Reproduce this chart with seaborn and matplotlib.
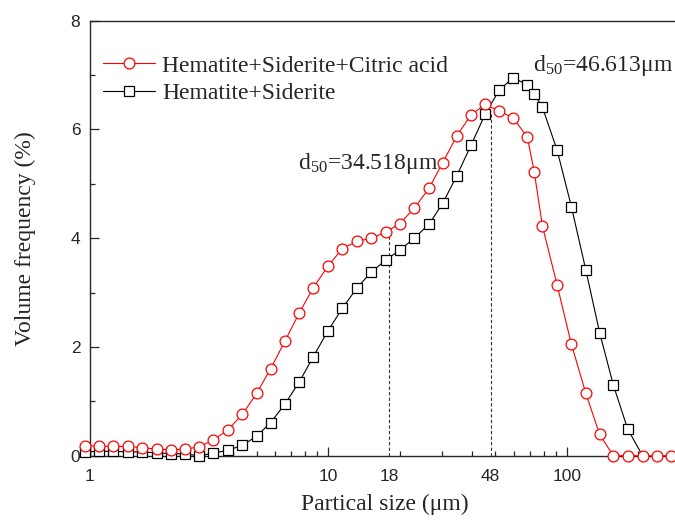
import numpy as np
import pandas as pd
import matplotlib
matplotlib.use("Agg")
import matplotlib.pyplot as plt
import seaborn as sns
from matplotlib.ticker import FixedLocator, NullFormatter

# ---- data ----
size_um = [0.950, 1.088, 1.249, 1.443, 1.658, 1.905, 2.193, 2.512, 2.876, 3.292,
           3.784, 4.358, 5.006, 5.73, 6.58, 7.56, 8.65, 9.94, 11.45, 13.16,
           15.10, 17.41, 19.94, 22.95, 26.47, 30.2, 34.6, 39.7, 45.5, 52.2,
           59.7, 68.4, 73.2, 79.1, 91.2, 104.7, 120.3, 137.6, 157.0, 180.4,
           208.3, 238.8, 273.3]
citric = [0.18, 0.18, 0.17, 0.17, 0.15, 0.12, 0.11, 0.12, 0.165, 0.29,
          0.47, 0.76, 1.15, 1.60, 2.11, 2.63, 3.09, 3.48, 3.81, 3.94,
          4.00, 4.11, 4.27, 4.55, 4.92, 5.39, 5.88, 6.27, 6.46, 6.34,
          6.21, 5.86, 5.21, 4.23, 3.14, 2.05, 1.15, 0.39, 0.0, 0.0,
          0.0, 0.0, 0.0]
plain = [0.07, 0.08, 0.08, 0.07, 0.07, 0.05, 0.04, 0.03, 0.0, 0.045,
         0.10, 0.19, 0.36, 0.61, 0.95, 1.36, 1.82, 2.29, 2.71, 3.08,
         3.37, 3.60, 3.78, 4.00, 4.26, 4.64, 5.15, 5.71, 6.28, 6.73,
         6.95, 6.82, 6.65, 6.41, 5.62, 4.58, 3.42, 2.26, 1.30, 0.49,
         0.0, None, None]
series_names = ["Hematite+Siderite+Citric acid", "Hematite+Siderite"]
d50_x = [18, 48]
d50_top = [4.11, 6.28]
d50_labels = ["34.518", "46.613"]
xtick_vals = [1, 10, 18, 48, 100]
xtick_labels = ["1", "10", "18", "48", "100"]
ytick_vals = [0, 2, 4, 6, 8]

df = pd.DataFrame({
    "size": size_um * 2,
    "freq": pd.to_numeric(pd.Series(citric + plain), errors="coerce"),
    "series": [series_names[0]] * len(size_um) + [series_names[1]] * len(size_um),
})

sns.set_style("ticks")
plt.rcParams["font.family"] = ["Liberation Serif", "DejaVu Serif"]
plt.rcParams["mathtext.fontset"] = "custom"
plt.rcParams["mathtext.rm"] = "Liberation Serif"
plt.rcParams["mathtext.it"] = "Liberation Serif"
plt.rcParams["mathtext.bf"] = "Liberation Serif"

fig = plt.figure(figsize=(6.75, 5.2), dpi=100)
ax = fig.add_axes([90 / 675, (520 - 455.7) / 520, (680 - 90) / 675, 435 / 520])

sub_b = df[(df.series == series_names[1]) & df.freq.notna()]
sub_r = df[df.series == series_names[0]]
sns.lineplot(data=sub_b, x="size", y="freq", ax=ax,
             color="black", lw=0.8, marker="s", markersize=7.5,
             markerfacecolor="white", markeredgecolor="black", markeredgewidth=0.9,
             markevery=list(range(len(sub_b) - 1)),
             estimator=None, sort=False, label=series_names[1], clip_on=False, zorder=3)
sns.lineplot(data=sub_r, x="size", y="freq", ax=ax,
             color="red", lw=0.8, marker="o", markersize=7.8,
             markerfacecolor="white", markeredgecolor="red", markeredgewidth=0.9,
             estimator=None, sort=False, label=series_names[0], clip_on=False, zorder=4)

ax.vlines(d50_x, 0, d50_top, colors="#333333", linestyles=(0, (3, 2)), lw=0.8, zorder=2)

ax.set_xscale("log")
ax.set_xlim(1, 299)
ax.set_ylim(0, 8)
ax.set_xticks(xtick_vals)
ax.set_xticklabels(xtick_labels)
minors = [v * d for d in (1, 10, 100) for v in range(2, 10)]
ax.xaxis.set_minor_locator(FixedLocator(minors))
ax.xaxis.set_minor_formatter(NullFormatter())
ax.set_yticks(ytick_vals)
ax.yaxis.set_minor_locator(FixedLocator([1, 3, 5, 7]))
ax.tick_params(which="major", direction="in", length=6.5, width=0.9, top=False, right=False,
               labelsize=12.5, pad=7)
ax.tick_params(axis="x", which="major", pad=9.5)
ax.tick_params(which="minor", direction="in", length=3.8, width=0.9, top=False, right=False)
for lab in ax.get_xticklabels() + ax.get_yticklabels():
    lab.set_family(["Liberation Sans", "DejaVu Sans"])
for t in ax.xaxis.get_major_ticks():
    if t.get_loc() in (18, 48):
        t.tick1line.set_visible(False)
for s in ax.spines.values():
    s.set_linewidth(1.0)

ax.set_xlabel("Partical size (μm)", fontsize=17, labelpad=7)
ax.set_ylabel("Volume frequency (%)", fontsize=17, labelpad=25)

ax.text(7.46, 5.27, r"d$_{50}$=" + d50_labels[0] + "μm", fontsize=17, va="baseline", ha="left")
ax.text(72.3, 7.08, r"d$_{50}$=" + d50_labels[1] + "μm", fontsize=17, va="baseline", ha="left")

h, l = ax.get_legend_handles_labels()
order = [l.index(series_names[0]), l.index(series_names[1])]
ax.legend([h[i] for i in order], [l[i] for i in order], loc="upper left",
          bbox_to_anchor=(0.022, 0.921), frameon=False, fontsize=17,
          handlelength=2.2, handletextpad=0.3, borderpad=0, borderaxespad=0,
          labelspacing=0.26)

fig.savefig("out.png", dpi=100)
